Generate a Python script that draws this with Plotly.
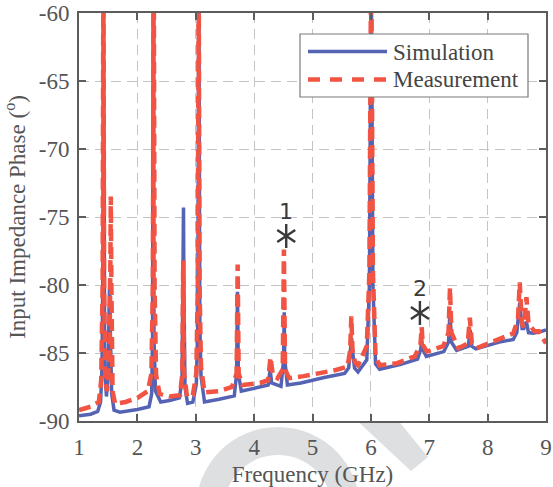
import plotly.graph_objects as go

# ---------------- data ----------------
sim_freq = [1.00, 1.20, 1.32, 1.37, 1.395, 1.41, 1.418, 1.425, 1.44, 1.47, 1.50, 1.515, 1.525, 1.535,
            1.56, 1.60, 1.70, 2.00, 2.20, 2.245, 2.26, 2.272, 2.285, 2.31, 2.40, 2.55, 2.72, 2.765,
            2.783, 2.79, 2.797, 2.815, 2.86, 2.95, 3.01, 3.035, 3.052, 3.07, 3.09, 3.15, 3.40, 3.66,
            3.70, 3.715, 3.73, 3.78, 4.00, 4.24, 4.275, 4.30, 4.46, 4.505, 4.515, 4.525, 4.57, 4.80,
            5.20, 5.55, 5.62, 5.65, 5.67, 5.69, 5.72, 5.78, 5.93, 5.975, 6.005, 6.035, 6.08, 6.15, 6.50, 6.80,
            6.855, 6.87, 6.885, 6.95, 7.25, 7.33, 7.355, 7.38, 7.47, 7.67, 7.70, 7.73, 7.80, 8.20,
            8.44, 8.50, 8.55, 8.59, 8.62, 8.665, 8.70, 8.78, 8.90, 9.00]
sim_phase = [-89.62, -89.50, -89.30, -88.60, -86.0, -78.0, -55.0, -78.0, -86.0, -88.2, -86.5, -82.0, -79.5, -83.0,
             -88.0, -89.2, -89.35, -89.15, -88.95, -88.0, -84.0, -55.0, -84.0, -87.8, -88.6, -88.5, -88.3, -87.0,
             -80.0, -74.3, -80.0, -87.5, -88.7, -88.6, -87.3, -83.0, -55.0, -83.0, -86.7, -88.6, -88.4, -88.15,
             -86.5, -80.5, -86.5, -87.8, -87.6, -87.35, -86.2, -87.2, -87.45, -85.5, -82.0, -85.5, -87.35, -87.2,
             -86.8, -86.5, -86.1, -85.0, -83.9, -85.0, -86.1, -86.4, -85.5, -80.0, -55.0, -80.0, -85.8, -86.2, -85.85, -85.45,
             -84.7, -83.9, -84.7, -85.25, -84.9, -84.2, -82.0, -84.2, -84.8, -84.5, -83.3, -84.5, -84.7, -84.2,
             -84.0, -83.5, -81.3, -83.2, -83.2, -82.7, -83.5, -83.55, -83.45, -83.3]

meas_freq = [1.00, 1.20, 1.34, 1.38, 1.405, 1.418, 1.43, 1.45, 1.48, 1.52, 1.535, 1.545, 1.555, 1.575,
             1.62, 1.80, 2.00, 2.18, 2.24, 2.265, 2.28, 2.295, 2.32, 2.38, 2.55, 2.73, 2.77, 2.785, 2.80,
             2.85, 2.95, 3.01, 3.035, 3.05, 3.065, 3.09, 3.15, 3.40, 3.62, 3.70, 3.718, 3.735, 3.80, 4.10,
             4.24, 4.28, 4.32, 4.40, 4.49, 4.51, 4.53, 4.60, 4.85, 5.40, 5.60, 5.645, 5.665, 5.685, 5.73, 5.78,
             5.93, 5.975, 6.005, 6.035, 6.08, 6.15, 6.45, 6.75, 6.85, 6.87, 6.89, 6.96, 7.24, 7.33, 7.355,
             7.38, 7.50, 7.66, 7.695, 7.73, 7.81, 8.16, 8.44, 8.52, 8.55, 8.585, 8.62, 8.665, 8.70, 8.80,
             8.88, 9.00]
meas_phase = [-89.2, -88.95, -88.6, -87.0, -80.0, -55.0, -80.0, -87.0, -87.8, -85.5, -80.0, -73.5, -80.0, -87.8,
              -88.75, -88.6, -88.3, -87.8, -86.5, -80.0, -55.0, -80.0, -86.6, -88.0, -88.2, -88.1, -86.5, -78.2, -86.5,
              -88.2, -88.1, -86.5, -80.0, -55.0, -80.0, -86.0, -87.9, -87.8, -87.5, -86.5, -78.5, -86.5, -87.35, -87.2,
              -87.0, -85.3, -86.6, -86.85, -86.2, -77.4, -86.2, -86.85, -86.7, -86.25, -86.0, -84.8, -82.3, -84.8, -85.7, -85.9,
              -84.5, -79.0, -55.0, -79.0, -85.3, -85.9, -85.75, -85.25, -84.4, -83.1, -84.4, -84.9, -84.5, -83.5, -80.2,
              -83.5, -84.65, -84.3, -82.4, -84.3, -84.65, -84.0, -83.55, -82.5, -79.8, -82.8, -83.1, -80.9, -82.8, -83.4,
              -83.4, -84.3]

mark_labels = ["1", "2"]
mark_freq = [4.55, 6.84]
mark_phase = [-76.4, -82.06]

x_ticks = [1, 2, 3, 4, 5, 6, 7, 8, 9]
x_ticktext = ["1", "2", "3", "4", "5", "6", "7", "8", "9"]
y_ticks = [-90, -85, -80, -75, -70, -65, -60]
y_ticktext = ["-90", "-85", "-80", "-75", "-70", "-65", "-60"]

series_names = ["Simulation", "Measurement"]

# ---------------- layout constants ----------------
W, H = 553, 487
ML, MR, MT, MB = 79, 7, 13, 66
PW, PH = W - ML - MR, H - MT - MB

def px(xp):
    return (xp - ML) / PW

def py(yp):
    return (H - MB - yp) / PH

SERIF = "Liberation Serif"
BLUE = "#5563b4"
RED = "#f25444"
GREY_TXT = "#555555"
AXIS = "#5c5c5c"
MARK = "#3a3a3a"
tick_font = dict(family=SERIF, size=23, color=GREY_TXT)
title_font = dict(family=SERIF, size=23, color=GREY_TXT)

fig = go.Figure()
fig.add_trace(go.Scatter(x=sim_freq, y=sim_phase, mode="lines", name=series_names[0],
                         line=dict(color=BLUE, width=3.5), showlegend=False))
fig.add_trace(go.Scatter(x=meas_freq, y=meas_phase, mode="lines", name=series_names[1],
                         line=dict(color=RED, width=4.5, dash="12px,6px"), showlegend=False))
# asterisk markers (6-armed star from two Y symbols)
for sym in ["y-up-open", "y-down-open"]:
    fig.add_trace(go.Scatter(x=mark_freq, y=mark_phase, mode="markers", showlegend=False,
                             marker=dict(symbol=sym, size=15, color=MARK,
                                         line=dict(color=MARK, width=2.4)),
                             cliponaxis=False))

annotations = []
for lab, f, p in zip(mark_labels, mark_freq, mark_phase):
    annotations.append(dict(x=f, y=p, xref="x", yref="y", text=lab, showarrow=False,
                            yshift=25, font=dict(family="DejaVu Sans", size=22, color=MARK)))

shapes = []
# watermark (outside plot area, behind everything)
shapes.append(dict(type="circle", xref="paper", yref="paper", layer="below",
                   x0=px(278 - 82), x1=px(278 + 82), y0=py(509 + 82), y1=py(509 - 82),
                   fillcolor="#dedfe1", line=dict(width=0)))
shapes.append(dict(type="circle", xref="paper", yref="paper", layer="below",
                   x0=px(278 - 54), x1=px(278 + 54), y0=py(509 + 54), y1=py(509 - 54),
                   fillcolor="white", line=dict(width=0)))
band = [(358, 421.5), (399, 421.5), (428, 457), (411, 471)]
shapes.append(dict(type="path", xref="paper", yref="paper", layer="below",
                   path="M" + " L".join(f"{px(a):.4f},{py(b):.4f}" for a, b in band) + " Z",
                   fillcolor="#dedfe1", line=dict(width=0)))

# manual legend box
shapes.append(dict(type="rect", xref="paper", yref="paper", layer="above",
                   x0=px(300), x1=px(528), y0=py(97), y1=py(34),
                   fillcolor="white", line=dict(color="#7a7a7a", width=1.2)))
shapes.append(dict(type="line", xref="paper", yref="paper", layer="above",
                   x0=px(308), x1=px(387), y0=py(51.5), y1=py(51.5),
                   line=dict(color=BLUE, width=3.5)))
shapes.append(dict(type="line", xref="paper", yref="paper", layer="above",
                   x0=px(308), x1=px(387), y0=py(79.5), y1=py(79.5),
                   line=dict(color=RED, width=4.5, dash="12px,10px")))
annotations.append(dict(x=px(391), y=py(52), xref="paper", yref="paper", text=series_names[0],
                        showarrow=False, xanchor="left", yanchor="middle",
                        font=dict(family=SERIF, size=23, color="#444444")))
annotations.append(dict(x=px(391), y=py(80), xref="paper", yref="paper", text=series_names[1],
                        showarrow=False, xanchor="left", yanchor="middle",
                        font=dict(family=SERIF, size=23, color="#444444")))

axis_common = dict(showline=True, linecolor=AXIS, linewidth=2, mirror="ticks",
                   ticks="inside", ticklen=7, tickwidth=1.5, tickcolor=AXIS,
                   showgrid=True, gridcolor="#c4c4c4", gridwidth=1, griddash="10px,6px",
                   zeroline=False, tickfont=tick_font)

fig.update_layout(
    template="none",
    font=tick_font,
    width=W, height=H,
    margin=dict(l=ML, r=MR, t=MT, b=MB, autoexpand=False),
    paper_bgcolor="white", plot_bgcolor="white",
    xaxis=dict(range=[1, 9], tickvals=x_ticks, ticktext=x_ticktext, ticklabelstandoff=4,
               title=dict(text="Frequency (GHz)", font=title_font, standoff=10),
               **axis_common),
    yaxis=dict(range=[-90, -60], tickvals=y_ticks, ticktext=y_ticktext, ticklabelstandoff=3,
               title=dict(text="Input Impedance Phase (<sup>o</sup>)", font=title_font, standoff=7),
               **axis_common),
    shapes=shapes, annotations=annotations,
)

fig.write_html("out.html")
